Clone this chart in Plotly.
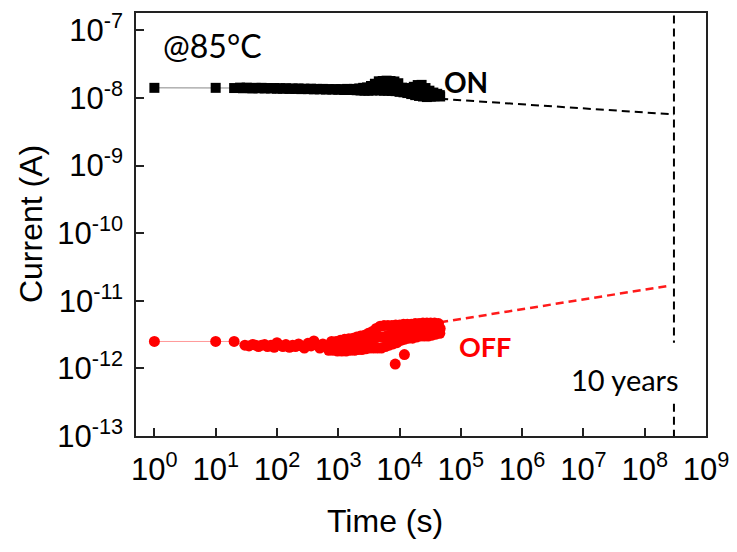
import plotly.graph_objects as go

# ---- data ----
# ON state (black squares): sparse start, then dense retention record
ON_T = [1, 10, 20, 25, 28, 32, 36, 40, 45, 50, 56, 63, 70, 80, 90, 100, 112, 125, 140, 160,
        180, 200, 225, 250, 280, 320, 360, 400, 450, 500, 560, 630, 700, 800, 900, 1000,
        1120, 1250, 1400, 1600, 1800,
        2000, 2100, 2200, 2310, 2430, 2550, 2680, 2810, 2950, 3100, 3260, 3420, 3590, 3770,
        3960, 4160, 4370, 4590, 4820, 5060, 5310, 5580, 5860, 6150, 6460, 6780, 7120, 7480,
        7850, 8240, 8650, 9080, 9540, 10000, 10500, 11000, 11600, 12200, 12800, 13400, 14100,
        14800, 15500, 16300, 17100, 18000, 18900, 19800, 20800, 21800, 22900, 24100, 25300,
        26500, 27900, 29300, 30700, 32200, 33900, 35600, 37300, 39200, 41200, 43200, 45400,
        46000]
ON_I = [1.41e-8, 1.41e-8, 1.40e-8, 1.42e-8, 1.39e-8, 1.42e-8, 1.40e-8, 1.38e-8, 1.41e-8, 1.39e-8,
        1.41e-8, 1.38e-8, 1.40e-8, 1.38e-8, 1.40e-8, 1.37e-8, 1.39e-8, 1.37e-8, 1.39e-8, 1.36e-8,
        1.38e-8, 1.36e-8, 1.38e-8, 1.35e-8, 1.37e-8, 1.35e-8, 1.37e-8, 1.34e-8, 1.36e-8, 1.34e-8,
        1.36e-8, 1.33e-8, 1.35e-8, 1.33e-8, 1.35e-8, 1.32e-8, 1.35e-8, 1.31e-8, 1.36e-8, 1.31e-8,
        1.36e-8,
        1.30e-8, 1.34e-8, 1.38e-8, 1.29e-8, 1.35e-8, 1.41e-8, 1.28e-8, 1.35e-8, 1.43e-8, 1.28e-8,
        1.37e-8, 1.50e-8, 1.29e-8, 1.42e-8, 1.62e-8, 1.30e-8, 1.50e-8, 1.76e-8, 1.29e-8, 1.50e-8,
        1.78e-8, 1.28e-8, 1.52e-8, 1.80e-8, 1.28e-8, 1.50e-8, 1.78e-8, 1.27e-8, 1.48e-8, 1.75e-8,
        1.26e-8, 1.45e-8, 1.65e-8, 1.23e-8, 1.33e-8, 1.42e-8, 1.21e-8, 1.30e-8, 1.38e-8, 1.18e-8,
        1.28e-8, 1.40e-8, 1.14e-8, 1.28e-8, 1.46e-8, 1.10e-8, 1.30e-8, 1.55e-8, 1.07e-8, 1.30e-8,
        1.56e-8, 1.05e-8, 1.25e-8, 1.40e-8, 1.03e-8, 1.15e-8, 1.28e-8, 1.04e-8, 1.12e-8, 1.20e-8,
        1.06e-8, 1.10e-8, 1.15e-8, 1.08e-8, 1.10e-8, 1.05e-8]

# OFF state (red circles)
OFF_T = [1, 10, 20, 30, 35, 40, 45, 50, 56, 63, 70, 80, 90, 100, 112, 125, 140, 160, 180, 200,
         225, 250, 280, 320, 360, 400, 450, 500, 560, 630,
         700, 740, 780, 820, 870, 920, 970, 1020, 1080, 1140, 1200, 1270, 1340, 1410, 1490,
         1570, 1660, 1750, 1850, 1950,
         2000, 2100, 2200, 2310, 2430, 2550, 2680, 2810, 2950, 3100, 3260, 3420, 3590, 3770,
         3960, 4160, 4370, 4590, 4820, 5060, 5310, 5580, 5860, 6150, 6460, 6780, 7120, 7480,
         7850, 8240, 8650, 9080, 9540, 10000, 10500, 11000, 11600, 12200, 12800, 13400, 14100,
         14800, 15500, 16300, 17100, 18000, 18900, 19800, 20800, 21800, 22900, 24100, 25300,
         26500, 27900, 29300, 30700, 32200, 33900, 35600, 37300, 39200, 41200, 43200, 45400,
         46000]
OFF_I = [2.5e-12, 2.5e-12, 2.5e-12, 2.2e-12, 2.15e-12, 2.25e-12, 2.2e-12, 2.1e-12, 2.2e-12,
         2.25e-12, 2.1e-12, 2.2e-12, 2.05e-12, 2.4e-12, 2.2e-12, 2.1e-12, 2.25e-12, 2.05e-12,
         2.2e-12, 2.1e-12, 2.3e-12, 2.15e-12, 2.0e-12, 2.35e-12, 2.15e-12, 2.55e-12, 2.2e-12,
         2.0e-12, 2.3e-12, 2.1e-12,
         1.85e-12, 2.15e-12, 2.5e-12, 1.85e-12, 2.2e-12, 2.5e-12, 1.8e-12, 2.2e-12, 2.6e-12,
         1.8e-12, 2.2e-12, 2.7e-12, 1.8e-12, 2.25e-12, 2.75e-12, 1.85e-12, 2.3e-12, 2.8e-12,
         1.85e-12, 2.35e-12,
         2.9e-12, 1.9e-12, 2.4e-12, 3.0e-12, 1.9e-12, 2.45e-12, 3.1e-12, 1.95e-12, 2.5e-12,
         3.3e-12, 2.0e-12, 2.6e-12, 3.5e-12, 2.0e-12, 2.8e-12, 3.9e-12, 2.0e-12, 2.9e-12,
         4.2e-12, 2.0e-12, 2.9e-12, 4.3e-12, 2.1e-12, 3.0e-12, 4.3e-12, 2.2e-12, 3.1e-12,
         4.3e-12, 2.3e-12, 3.2e-12, 4.4e-12, 2.4e-12, 3.2e-12, 4.4e-12, 2.6e-12, 3.4e-12,
         4.5e-12, 2.7e-12, 3.5e-12, 4.5e-12, 2.8e-12, 3.5e-12, 4.5e-12, 2.8e-12, 3.6e-12,
         4.6e-12, 2.9e-12, 3.7e-12, 4.6e-12, 3.0e-12, 3.7e-12, 4.7e-12, 3.0e-12, 3.8e-12,
         4.7e-12, 3.0e-12, 3.8e-12, 4.7e-12, 3.1e-12, 3.8e-12, 4.7e-12, 3.2e-12, 3.9e-12,
         4.6e-12, 3.3e-12, 3.9e-12]
OFF_OUT_T = [8500, 12000]
OFF_OUT_I = [1.16e-12, 1.6e-12]

# extrapolations to 10 years
ON_FIT_T = [46000, 3.0e8]
ON_FIT_I = [9.7e-9, 5.7e-9]
OFF_FIT_T = [46000, 2.5e8]
OFF_FIT_I = [4.8e-12, 1.67e-11]

# 10-year marker line (broken around its label)
TEN_YEARS_T = [3.0e8, 3.0e8, None, 3.0e8, 3.0e8]
TEN_YEARS_I = [1.66e-7, 2.4e-12, None, 3.0e-13, 1.0e-13]

X_TICKS = [1e0, 1e1, 1e2, 1e3, 1e4, 1e5, 1e6, 1e7, 1e8, 1e9]
X_TICKTEXT = ["10<sup>0</sup>", "10<sup>1</sup>", "10<sup>2</sup>", "10<sup>3</sup>",
              "10<sup>4</sup>", "10<sup>5</sup>", "10<sup>6</sup>", "10<sup>7</sup>",
              "10<sup>8</sup>", "10<sup>9</sup>"]
Y_TICKS = [1e-13, 1e-12, 1e-11, 1e-10, 1e-9, 1e-8, 1e-7]
Y_TICKTEXT = ["10<sup>-13</sup>", "10<sup>-12</sup>", "10<sup>-11</sup>", "10<sup>-10</sup>",
              "10<sup>-9</sup>", "10<sup>-8</sup>", "10<sup>-7</sup>"]

AX_FONT = "Liberation Sans, Arial, sans-serif"
TXT_FONT = "Lato, Open Sans, sans-serif"

fig = go.Figure()
fig.add_trace(go.Scatter(x=ON_FIT_T, y=ON_FIT_I, mode="lines",
                         line=dict(color="black", width=2, dash="8px,5px")))
fig.add_trace(go.Scatter(x=OFF_FIT_T, y=OFF_FIT_I, mode="lines",
                         line=dict(color="#ff1a1a", width=2.5, dash="8px,5px")))
fig.add_trace(go.Scatter(x=TEN_YEARS_T, y=TEN_YEARS_I, mode="lines", connectgaps=False,
                         line=dict(color="black", width=2, dash="8px,5px")))
fig.add_trace(go.Scatter(x=ON_T, y=ON_I, mode="lines+markers",
                         line=dict(color="#888888", width=1),
                         marker=dict(symbol="square", size=10, color="black")))
fig.add_trace(go.Scatter(x=OFF_T, y=OFF_I, mode="lines+markers",
                         line=dict(color="#ff9999", width=1),
                         marker=dict(symbol="circle", size=11, color="#ff0000")))
fig.add_trace(go.Scatter(x=OFF_OUT_T, y=OFF_OUT_I, mode="markers",
                         marker=dict(symbol="circle", size=11, color="#ff0000")))

# the page body adds an 8px offset; size the figure so the plot lands where the reference's does
fig.update_layout(
    width=729, height=536,
    margin=dict(l=128, r=31, t=5, b=108),
    paper_bgcolor="white", plot_bgcolor="white",
    showlegend=False,
    font=dict(family=AX_FONT, color="black"),
)
fig.update_xaxes(type="log", range=[-0.3, 9.0], automargin=False,
                 tickvals=X_TICKS, ticktext=X_TICKTEXT,
                 ticks="inside", ticklen=8, tickwidth=1.5, tickcolor="#222",
                 showline=True, linewidth=1.5, linecolor="#222", mirror=True,
                 showgrid=False, zeroline=False, ticklabelstandoff=5,
                 tickfont=dict(size=31, family=AX_FONT))
fig.update_yaxes(type="log", range=[-13, -6.744], automargin=False,
                 tickvals=Y_TICKS, ticktext=Y_TICKTEXT,
                 ticks="inside", ticklen=8, tickwidth=1.5, tickcolor="#222",
                 showline=True, linewidth=1.5, linecolor="#222", mirror=True,
                 showgrid=False, zeroline=False, ticklabelstandoff=5,
                 tickfont=dict(size=31, family=AX_FONT))

# axis titles
fig.add_annotation(xref="paper", yref="paper", x=-0.185, y=0.5, text="Current (A)",
                   textangle=-90, showarrow=False, xanchor="center", yanchor="middle",
                   font=dict(size=32, family=AX_FONT, color="black"))
fig.add_annotation(xref="paper", yref="paper", x=0.437, y=-0.2, text="Time (s)",
                   showarrow=False, xanchor="center", yanchor="middle",
                   font=dict(size=32, family=AX_FONT, color="black"))

# in-plot labels
fig.add_annotation(xref="paper", yref="paper", x=0.135, y=0.924, text="@85°C",
                   showarrow=False, xanchor="center", yanchor="middle",
                   font=dict(size=32, family=TXT_FONT, color="black"))
fig.add_annotation(xref="paper", yref="paper", x=0.579, y=0.836, text="<b>ON</b>",
                   showarrow=False, xanchor="center", yanchor="middle",
                   font=dict(size=28, family=TXT_FONT, color="black"))
fig.add_annotation(xref="paper", yref="paper", x=0.612, y=0.2126, text="<b>OFF</b>",
                   showarrow=False, xanchor="center", yanchor="middle",
                   font=dict(size=27, family=TXT_FONT, color="#ff0000"))
fig.add_annotation(xref="paper", yref="paper", x=0.858, y=0.1347, text="10 years",
                   showarrow=False, xanchor="center", yanchor="middle",
                   font=dict(size=29, family=TXT_FONT, color="black"))

fig.write_html("out.html")
